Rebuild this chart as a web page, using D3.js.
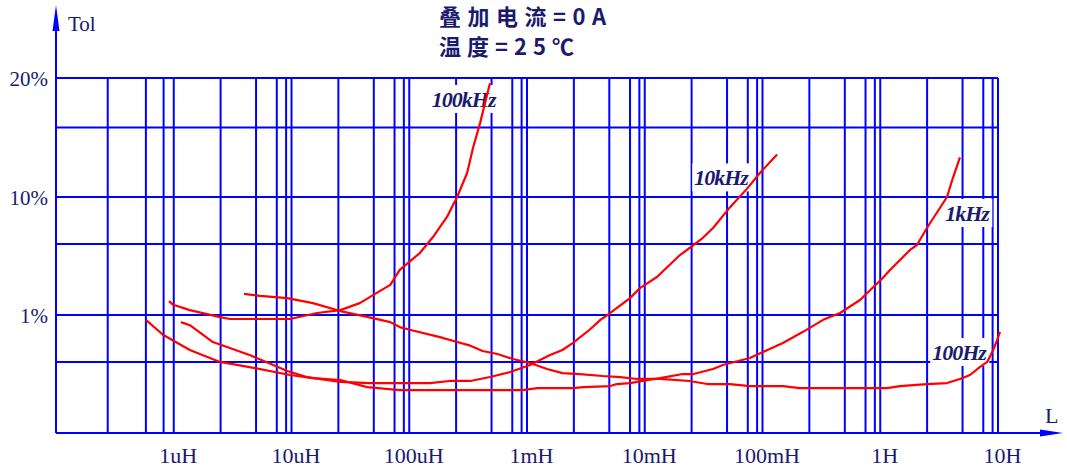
<!DOCTYPE html>
<html>
<head>
<meta charset="utf-8">
<script src="https://cdn.jsdelivr.net/npm/d3@7"></script>
<style>
  body { margin: 0; background: #fff; }
  svg { display: block; }
</style>
</head>
<body>
<div id="chart"></div>
<script>
// --> DATA (inductance in H, tolerance in %)
var seriesNames = ["100kHz", "10kHz", "1kHz", "100Hz"];

var L100kHz   = [9.1e-7, 9.9e-7, 1.37e-6, 2.47e-6, 3.0e-6, 9.7e-6, 1.65e-5, 2.6e-5, 3.8e-5, 5.3e-5, 6.9e-5, 8.3e-5, 1.23e-4, 1.59e-4, 2.09e-4, 2.55e-4, 3.1e-4, 3.5e-4, 4.0e-4, 4.4e-4, 4.85e-4];
var tol100kHz = [1.31, 1.22, 1.10, 0.96, 0.925, 0.925, 1.04, 1.10, 1.26, 1.54, 1.80, 2.41, 3.35, 4.58, 6.77, 10, 11.5, 13.4, 15.4, 17.3, 19.4];

var L10kHz   = [1.15e-6, 1.37e-6, 2.15e-6, 4.4e-6, 7.0e-6, 9.2e-6, 1.35e-5, 2.6e-5, 4.6e-5, 1.5e-4, 2.2e-4, 3.3e-4, 4.85e-4, 7.2e-4, 1.06e-3, 1.57e-3, 2.0e-3, 2.46e-3, 3.4e-3, 4.2e-3, 5.1e-3, 7.5e-3, 9.1e-3, 1.27e-2, 1.99e-2, 2.6e-2, 3.1e-2, 3.8e-2, 5.3e-2, 7.4e-2, 9.5e-2, 0.133];
var tol10kHz = [0.87, 0.82, 0.59, 0.458, 0.377, 0.335, 0.298, 0.271, 0.265, 0.265, 0.276, 0.276, 0.298, 0.329, 0.377, 0.458, 0.505, 0.58, 0.75, 0.91, 1.04, 1.39, 1.69, 2.10, 3.22, 3.92, 4.49, 5.46, 8.2, 10.5, 11.5, 12.8];

var L1kHz   = [5.8e-7, 8.1e-7, 1.37e-6, 2.47e-6, 4.4e-6, 9.7e-6, 1.52e-5, 2.6e-5, 4.4e-5, 8.3e-5, 1.31e-4, 9.2e-4, 1.22e-3, 2.46e-3, 3.0e-3, 5.1e-3, 5.8e-3, 7.5e-3, 1.04e-2, 1.35e-2, 2.1e-2, 2.6e-2, 3.8e-2, 4.6e-2, 7.8e-2, 0.101, 0.149, 0.221, 0.327, 0.455, 0.673, 1.05, 1.21, 1.79, 2.05, 2.49, 3.69, 4.15, 4.75];
var tol1kHz = [0.91, 0.68, 0.505, 0.40, 0.362, 0.31, 0.292, 0.281, 0.245, 0.231, 0.231, 0.231, 0.24, 0.24, 0.245, 0.25, 0.26, 0.265, 0.281, 0.292, 0.316, 0.316, 0.349, 0.377, 0.432, 0.485, 0.58, 0.72, 0.91, 1.04, 1.34, 2.06, 2.41, 3.56, 3.92, 5.46, 10, 11.2, 12.6];

var L100Hz   = [3.95e-6, 5.4e-6, 9.2e-6, 1.52e-5, 2.6e-5, 4.9e-5, 6.9e-5, 8.3e-5, 1.01e-4, 1.82e-4, 2.55e-4, 3.3e-4, 4.2e-4, 5.6e-4, 7.6e-4, 1.06e-3, 1.48e-3, 2.0e-3, 2.8e-3, 4.4e-3, 6.2e-3, 8.6e-3, 1.35e-2, 2.4e-2, 3.4e-2, 5.3e-2, 7.8e-2, 0.149, 0.208, 1.14, 1.47, 2.49, 3.69, 4.75, 5.78, 7.0, 8.1, 9.1, 9.8, 10.4];
var tol100Hz = [1.51, 1.45, 1.39, 1.26, 1.08, 0.94, 0.87, 0.79, 0.75, 0.65, 0.59, 0.55, 0.495, 0.467, 0.424, 0.392, 0.349, 0.322, 0.316, 0.304, 0.298, 0.287, 0.287, 0.276, 0.26, 0.26, 0.25, 0.25, 0.24, 0.24, 0.25, 0.26, 0.265, 0.287, 0.31, 0.362, 0.40, 0.505, 0.61, 0.72];

// where each curve name sits (L, tol)
var labelL   = [2.9e-4, 4.45e-2, 5.46, 4.67];
var labelTol = [16.9, 10.7, 6.26, 0.416];

// grid
var decadeStarts = [1e-6, 1e-5, 1e-4, 1e-3, 1e-2, 1e-1, 1];
var decadeMultiples = [2.5, 5, 7.5, 9, 10];
var firstDecadeLines = [2.75e-7, 5.8e-7, 8.2e-7, 1e-6];
var tolGrid = [0.4, 1, 4, 10, 15, 20];

// ticks
var xTickValues = [1e-6, 1e-5, 1e-4, 1e-3, 1e-2, 1e-1, 1, 10];
var xTickLabels = ["1uH", "10uH", "100uH", "1mH", "10mH", "100mH", "1H", "10H"];
var yTickValues = [1, 10, 20];
var yTickLabels = ["1%", "10%", "20%"];

var titleLines = ["叠加电流=0A", "温度=25℃"];

// --> SVG
var width = 1067, height = 471;
var blue = "#0000ff", red = "#ff0000", ink = "#1a1a6e";

var svg = d3.select("#chart").append("svg")
    .attr("width", width)
    .attr("height", height);

var x = d3.scaleLog().domain([1e-7, 10]).range([56, 998]);
var y = d3.scaleLog().domain([0.1, 1, 10, 20]).range([433, 315, 197, 78]);

var xLines = firstDecadeLines.slice();
decadeStarts.forEach(function(d) {
    decadeMultiples.forEach(function(m) { xLines.push(d * m); });
});

var grid = svg.append("g").attr("class", "grid");

grid.selectAll(".vline")
    .data(xLines)
    .enter().append("line")
    .attr("class", "vline")
    .attr("x1", function(d) { return x(d); })
    .attr("x2", function(d) { return x(d); })
    .attr("y1", y(20))
    .attr("y2", y(0.1))
    .attr("stroke", blue)
    .attr("stroke-width", 2);

grid.selectAll(".hline")
    .data(tolGrid)
    .enter().append("line")
    .attr("class", "hline")
    .attr("x1", x(1e-7))
    .attr("x2", x(10))
    .attr("y1", function(d) { return y(d); })
    .attr("y2", function(d) { return y(d); })
    .attr("stroke", blue)
    .attr("stroke-width", 2);

// axes with arrows
var x0 = x(1e-7), yb = y(0.1);
svg.append("line")
    .attr("x1", x0).attr("x2", 1045)
    .attr("y1", yb).attr("y2", yb)
    .attr("stroke", blue).attr("stroke-width", 2);
svg.append("path")
    .attr("d", "M1063," + yb + "L1040," + (yb - 3.5) + "L1040," + (yb + 3.5) + "Z")
    .attr("fill", blue);
svg.append("line")
    .attr("x1", x0).attr("x2", x0)
    .attr("y1", yb).attr("y2", 28)
    .attr("stroke", blue).attr("stroke-width", 2);
svg.append("path")
    .attr("d", "M" + x0 + ",5L" + (x0 - 3.5) + ",31L" + (x0 + 3.5) + ",31Z")
    .attr("fill", blue);

var xAxis = svg.append("g")
    .attr("transform", "translate(0," + yb + ")")
    .call(d3.axisBottom(x)
        .tickValues(xTickValues)
        .tickSize(0)
        .tickPadding(14)
        .tickFormat(function(d, i) { return xTickLabels[i]; }));
xAxis.select(".domain").remove();
xAxis.selectAll("text")
    .attr("dx", 4)
    .attr("fill", ink)
    .style("font-family", "'Liberation Serif', 'Times New Roman', serif")
    .style("font-size", "22px");

var yAxis = svg.append("g")
    .attr("transform", "translate(" + x0 + ",0)")
    .call(d3.axisLeft(y)
        .tickValues(yTickValues)
        .tickSize(0)
        .tickPadding(8)
        .tickFormat(function(d, i) { return yTickLabels[i]; }));
yAxis.select(".domain").remove();
yAxis.selectAll("text")
    .attr("dy", "0.38em")
    .attr("fill", ink)
    .style("font-family", "'Liberation Serif', 'Times New Roman', serif")
    .style("font-size", "21px");

svg.append("text")
    .attr("x", 68).attr("y", 31)
    .attr("fill", ink)
    .style("font-family", "'Liberation Serif', serif")
    .style("font-size", "21px")
    .text("Tol");

svg.append("text")
    .attr("x", 1045).attr("y", 423)
    .attr("fill", ink)
    .style("font-family", "'Liberation Serif', serif")
    .style("font-size", "22px")
    .text("L");

// title
var titleLen = [167, 135];
svg.selectAll(".title")
    .data(titleLines)
    .enter().append("text")
    .attr("class", "title")
    .attr("x", 439)
    .attr("y", function(d, i) { return 25 + i * 30; })
    .attr("textLength", function(d, i) { return titleLen[i]; })
    .attr("lengthAdjust", "spacing")
    .attr("fill", ink)
    .style("font-family", "'Noto Sans CJK SC', sans-serif")
    .style("font-weight", "bold")
    .style("font-size", "22px")
    .text(function(d) { return d; });

// curve labels (white box knocks out the grid)
var labels = svg.append("g").attr("class", "curve-labels");
seriesNames.forEach(function(name, i) {
    var g = labels.append("g");
    var t = g.append("text")
        .attr("x", x(labelL[i]))
        .attr("y", y(labelTol[i]))
        .attr("text-anchor", "middle")
        .attr("fill", ink)
        .style("font-family", "'Liberation Serif', serif")
        .style("font-style", "italic")
        .style("font-weight", "bold")
        .style("font-size", "22px")
        .style("letter-spacing", "-1px")
        .text(name);
    var b = t.node().getBBox();
    g.insert("rect", "text")
        .attr("x", b.x - 2)
        .attr("y", b.y - 2)
        .attr("width", b.width + 4)
        .attr("height", b.height + 3)
        .attr("fill", "#fff");
});

// curves
var seriesL = [L100kHz, L10kHz, L1kHz, L100Hz];
var seriesT = [tol100kHz, tol10kHz, tol1kHz, tol100Hz];

var line = d3.line()
    .x(function(d) { return x(d[0]); })
    .y(function(d) { return y(d[1]); });

svg.append("g")
    .attr("class", "curves")
    .selectAll("path")
    .data(seriesNames)
    .enter().append("path")
    .attr("d", function(d, i) {
        return line(d3.zip(seriesL[i], seriesT[i]));
    })
    .attr("fill", "none")
    .attr("stroke", red)
    .attr("stroke-width", 2.2)
    .attr("stroke-linejoin", "round");
</script>
</body>
</html>
